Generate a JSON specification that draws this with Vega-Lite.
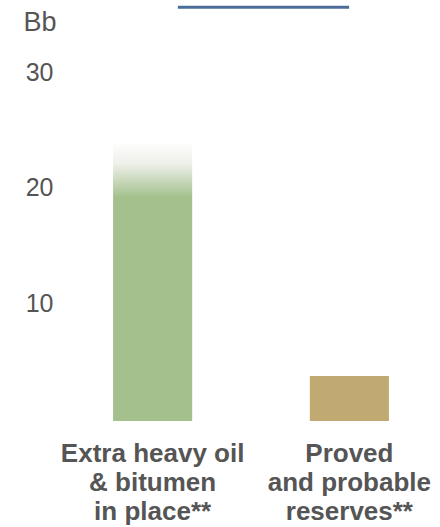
{
  "$schema": "https://vega.github.io/schema/vega-lite/v6.json",
  "autosize": {"type": "none"},
  "padding": {"left": 70, "top": 5, "right": 8, "bottom": 106},
  "width": 362,
  "height": 416,
  "background": "white",
  "config": {"view": {"stroke": null}, "font": "Liberation Sans"},
  "datasets": {
    "bars": [
      {"category": "Extra heavy oil & bitumen in place**", "value": 24.2},
      {"category": "Proved and probable reserves**", "value": 3.9}
    ],
    "topline": [
      {"start": 0.298, "end": 0.771, "level": 35.8}
    ]
  },
  "layer": [
    {
      "data": {"name": "bars"},
      "encoding": {
        "x": {
          "field": "category", "type": "nominal", "sort": null,
          "scale": {"domain": ["Extra heavy oil & bitumen in place**", "Proved and probable reserves**"], "paddingInner": 0.598, "paddingOuter": 0.219},
          "axis": {
            "title": null, "labelAngle": 0, "domain": false, "ticks": false,
            "labelFontSize": 26, "labelFontWeight": "bold", "labelColor": "#555555",
            "labelPadding": 19, "labelLineHeight": 29, "labelLimit": 0,
            "labelExpr": "datum.value == 'Extra heavy oil & bitumen in place**' ? ['Extra heavy oil', '& bitumen', 'in place**'] : ['Proved', 'and probable', 'reserves**']"
          }
        },
        "y": {
          "field": "value", "type": "quantitative",
          "scale": {"domain": [0, 36], "nice": false},
          "axis": {
            "values": [10, 20, 30], "grid": false, "domain": false, "ticks": false,
            "labelFontSize": 25, "labelColor": "#555555", "labelPadding": 17, "labelOffset": -2,
            "title": "Bb", "titleAngle": 0, "titleAlign": "left", "titleBaseline": "middle",
            "titleX": -47, "titleY": 17, "titleFontSize": 27, "titleFontWeight": "normal", "titleColor": "#555555"
          }
        }
      },
      "layer": [
        {
          "transform": [{"filter": "datum.category == 'Extra heavy oil & bitumen in place**'"}],
          "mark": {
            "type": "bar",
            "color": {
              "gradient": "linear", "x1": 0, "y1": 0, "x2": 0, "y2": 1,
              "stops": [
                {"offset": 0, "color": "#ffffff"},
                {"offset": 0.08, "color": "#eef0ea"},
                {"offset": 0.2, "color": "#a4c18d"},
                {"offset": 1, "color": "#a4c18d"}
              ]
            }
          }
        },
        {
          "transform": [{"filter": "datum.category == 'Proved and probable reserves**'"}],
          "mark": {"type": "bar", "color": "#c1aa71"}
        }
      ]
    },
    {
      "data": {"name": "topline"},
      "mark": {"type": "rule", "color": "#4a6d9b", "strokeWidth": 3},
      "encoding": {
        "x": {"field": "start", "type": "quantitative", "scale": {"domain": [0, 1], "nice": false, "zero": false}, "axis": null},
        "x2": {"field": "end"},
        "y": {"field": "level", "type": "quantitative"}
      }
    }
  ],
  "resolve": {"scale": {"x": "independent"}, "axis": {"x": "independent"}}
}
